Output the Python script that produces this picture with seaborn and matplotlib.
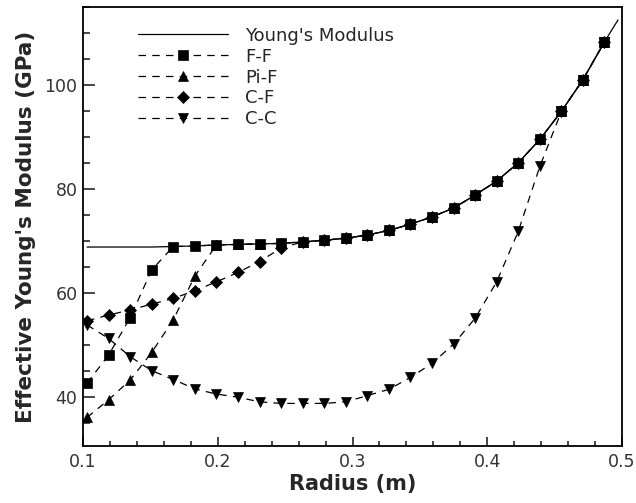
import matplotlib
matplotlib.use("Agg")
import matplotlib.pyplot as plt
import seaborn as sns
from matplotlib.ticker import MultipleLocator, FormatStrFormatter

# radius values (m) at the markers
radius = [0.103, 0.119, 0.135, 0.151, 0.167, 0.183, 0.199, 0.215, 0.231, 0.247,
          0.263, 0.279, 0.295, 0.311, 0.327, 0.343, 0.359, 0.375, 0.391, 0.407,
          0.423, 0.439, 0.455, 0.471, 0.487]

# Young's modulus curve (GPa), runs a little past the last marker
radius_young = radius + [0.497]
young = [68.8, 68.8, 68.8, 68.8, 68.9, 69.0, 69.2, 69.3, 69.4, 69.5,
         69.8, 70.1, 70.5, 71.1, 72.0, 73.2, 74.6, 76.3, 78.8, 81.5,
         85.0, 89.5, 94.9, 101.0, 108.3, 112.5]

# effective modulus per boundary condition
ff = [42.6, 48.0, 55.2, 64.4, 68.9, 69.0, 69.2, 69.3, 69.4, 69.5,
      69.8, 70.1, 70.5, 71.1, 72.0, 73.2, 74.6, 76.3, 78.8, 81.5,
      85.0, 89.5, 94.9, 101.0, 108.3]
pif = [36.0, 39.4, 43.2, 48.5, 54.8, 63.2, 69.2, 69.3, 69.4, 69.5,
       69.8, 70.1, 70.5, 71.1, 72.0, 73.2, 74.6, 76.3, 78.8, 81.5,
       85.0, 89.5, 94.9, 101.0, 108.3]
cf = [54.6, 55.7, 56.7, 57.8, 58.9, 60.4, 62.1, 63.9, 66.0, 68.6,
      69.8, 70.1, 70.5, 71.1, 72.0, 73.2, 74.6, 76.3, 78.8, 81.5,
      85.0, 89.5, 94.9, 101.0, 108.3]
cc = [53.8, 51.2, 47.7, 45.0, 43.3, 41.5, 40.5, 39.9, 39.0, 38.7,
      38.7, 38.7, 39.0, 40.2, 41.4, 43.7, 46.4, 50.1, 55.1, 62.1,
      71.8, 84.3, 94.9, 101.0, 108.3]

series = [("F-F", ff, "s", 7), ("Pi-F", pif, "^", 7),
          ("C-F", cf, "D", 6.5), ("C-C", cc, "v", 7.5)]

sns.set_style("ticks")
plt.rcParams["font.family"] = ["DejaVu Sans"]

fig = plt.figure(figsize=(6.36, 5.03), dpi=100)
ax = fig.add_axes([0.1305, 0.1133, 0.8475, 0.8728])

sns.lineplot(x=radius_young, y=young, color="k", lw=0.9,
             label="Young's Modulus", ax=ax)
for name, vals, mk, ms in series:
    sns.lineplot(x=radius, y=vals, color="k", lw=0.9, linestyle=(0, (6, 5)),
                 marker=mk, markersize=ms, markeredgecolor="k",
                 markerfacecolor="k", markeredgewidth=0.5, label=name, ax=ax)

ax.set_xlim(0.1, 0.5)
ax.set_ylim(30.5, 115)
ax.xaxis.set_major_locator(MultipleLocator(0.1))
ax.xaxis.set_minor_locator(MultipleLocator(0.02))
ax.xaxis.set_major_formatter(FormatStrFormatter("%.1f"))
ax.yaxis.set_major_locator(MultipleLocator(20))
ax.yaxis.set_minor_locator(MultipleLocator(5))
ax.set_yticks([40, 60, 80, 100])

ax.tick_params(axis="x", which="major", direction="in", length=6.5, width=1.2, pad=5)
ax.tick_params(axis="x", which="minor", direction="in", length=3.5, width=1.2)
ax.tick_params(axis="y", which="major", direction="in", length=8.5, width=1.2, pad=4)
ax.tick_params(axis="y", which="minor", direction="in", length=5, width=1.2)
for lab in ax.get_xticklabels() + ax.get_yticklabels():
    lab.set_fontsize(12.5)
    lab.set_color("#333333")

for sp in ax.spines.values():
    sp.set_linewidth(1.3)
    sp.set_color("k")

ax.set_xlabel("Radius (m)", fontsize=15, fontweight="bold", labelpad=2)
ax.set_ylabel("Effective Young's Modulus (GPa)", fontsize=15.5,
              fontweight="bold", labelpad=6)

ax.legend(loc="upper left", bbox_to_anchor=(0.102, 0.955), frameon=False,
          fontsize=13, handlelength=5, handletextpad=0.95, labelspacing=0.16,
          borderpad=0, borderaxespad=0)

fig.savefig("out.png", dpi=100)
